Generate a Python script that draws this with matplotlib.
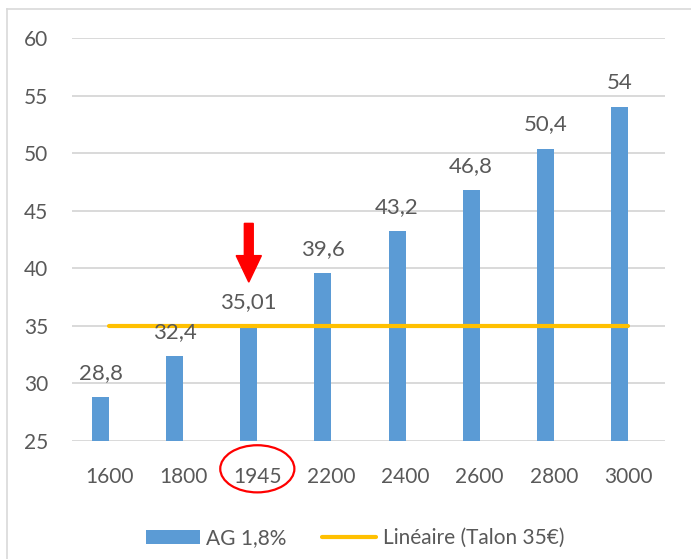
import numpy as np
import matplotlib
matplotlib.use("Agg")
import matplotlib.pyplot as plt
from matplotlib.patches import Ellipse, FancyArrow
from matplotlib.lines import Line2D
import matplotlib.transforms as mtransforms

# data
categories = ["1600", "1800", "1945", "2200", "2400", "2600", "2800", "3000"]
values = [28.8, 32.4, 35.01, 39.6, 43.2, 46.8, 50.4, 54]
value_labels = ["28,8", "32,4", "35,01", "39,6", "43,2", "46,8", "50,4", "54"]
talon = 35
highlight = "1945"

plt.rcParams['font.family'] = ['Lato', 'DejaVu Sans']
text_col = "#595959"
grid_col = "#D9D9D9"
bar_col = "#5B9BD5"
line_col = "#FFC000"

fig = plt.figure(figsize=(6.91, 5.59), dpi=100)
ax = fig.add_axes([72/691, 1-441/559, 593/691, 403/559])

x = np.arange(len(categories))
w = 0.23
# bars sit left of the category centre (empty second series in the cluster)
ax.bar(x - w/2, values, width=w, color=bar_col, zorder=2, label="AG 1,8%")
for xi, v, lab in zip(x, values, value_labels):
    ax.annotate(lab, (xi - w/2, v), xytext=(0, 13), textcoords="offset points",
                ha="center", va="baseline", fontsize=16, color=text_col, zorder=5)

ax.plot([x[0], x[-1]], [talon, talon], color=line_col, lw=3.0,
        solid_capstyle="round", zorder=3, label="Linéaire (Talon 35€)")

ax.set_xlim(-0.5, len(categories) - 0.5)
ax.set_ylim(25, 60)
ax.set_yticks(np.arange(25, 61, 5))
ax.set_xticks(x)
ax.set_xticklabels(categories)
ax.tick_params(axis="both", length=0, labelsize=15, colors=text_col)
ax.tick_params(axis="y", pad=17)
ax.tick_params(axis="x", pad=19)
for s in ax.spines.values():
    s.set_visible(False)
ax.grid(axis="y", color=grid_col, lw=1.4, zorder=0)
ax.set_axisbelow(True)

# red arrow pointing at the 1945 bar
hi = categories.index(highlight)
ax.add_patch(FancyArrow(hi - w/2, 43.9, 0, -5.1, width=0.12, head_width=0.34,
                        head_length=2.3, length_includes_head=True,
                        color="#FF0000", zorder=4, clip_on=False))

# red ellipse around the 1945 tick label
tr = mtransforms.blended_transform_factory(ax.transData, ax.transAxes)
ax.add_patch(Ellipse((hi, -0.069), 1.0, 0.117, transform=tr, fill=False,
                     edgecolor="#FF0000", lw=1.6, clip_on=False))

handles, labels = ax.get_legend_handles_labels()
order = [labels.index("AG 1,8%"), labels.index("Linéaire (Talon 35€)")]
fig.legend([handles[i] for i in order], [labels[i] for i in order],
           loc="center", bbox_to_anchor=(355/691, 1-538/559), ncol=2, frameon=False,
           fontsize=15, labelcolor=text_col, handlelength=2.6, handleheight=0.65,
           handletextpad=0.3, columnspacing=1.7)

# chart border (left and top visible)
fig.add_artist(Line2D([7/691, 7/691], [0, 1-9/559], color=grid_col, lw=1.2))
fig.add_artist(Line2D([7/691, 1], [1-9/559, 1-9/559], color=grid_col, lw=1.2))

fig.savefig("out.png", dpi=100)
